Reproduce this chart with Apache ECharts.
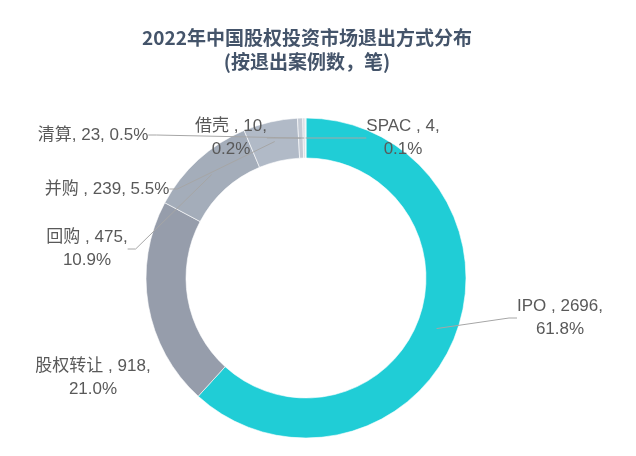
<!DOCTYPE html>
<html>
<head>
<meta charset="utf-8">
<script src="https://cdn.jsdelivr.net/npm/echarts@6/dist/echarts.min.js"></script>
<style>html,body{margin:0;padding:0;background:#fff}#c{width:636px;height:456px}</style>
</head>
<body>
<div id="c"></div>
<script>
var categories = ['IPO', '股权转让', '回购', '并购', '清算', '借壳', 'SPAC'];
var values = [2696, 918, 475, 239, 23, 10, 4];
var nameSeparators = [' , ', ' , ', ' , ', ' , ', ', ', ' , ', ' , '];
var wrapAfterValue = [true, true, true, false, false, true, true];
var titleText = '2022年中国股权投资市场退出方式分布\n(按退出案例数，笔)';

var colors = ['#20CDD6', '#969DAB', '#A4ADBA', '#B1BAC7', '#C4CAD4', '#D3D8DF', '#E2E5EA'];
var showLeader = [true, false, true, true, true, true, true];
// label anchor positions (centre of text block), in px
var labelPos = [
  [560, 318], [93, 378], [87, 249], [107, 189], [93, 135], [231, 138], [403, 138]
];

var chart = echarts.init(document.getElementById('c'));
var ringData = categories.map(function (n, i) {
  return { name: n, value: values[i], itemStyle: { color: colors[i] } };
});
var guideData = categories.map(function (n, i) {
  return { name: n, value: values[i], labelLine: { show: showLeader[i] } };
});
chart.setOption({
  animation: false,
  title: {
    text: titleText,
    left: 302, top: 21, textAlign: 'center',
    textStyle: { fontFamily: 'Noto Sans CJK SC', fontSize: 19, fontWeight: 'bold', color: '#44546A', lineHeight: 24 }
  },
  series: [{
    type: 'pie',
    z: 1,
    center: [306, 278],
    radius: [120, 160],
    startAngle: 90,
    clockwise: true,
    silent: true,
    itemStyle: { borderColor: '#ffffff', borderWidth: 0.6 },
    label: { show: false },
    labelLine: { show: false },
    data: ringData
  }, {
    type: 'pie',
    z: 10,
    center: [306, 278],
    radius: [139.5, 140],
    startAngle: 90,
    clockwise: true,
    silent: true,
    avoidLabelOverlap: false,
    itemStyle: { color: 'rgba(0,0,0,0)' },
    data: guideData,
    label: {
      show: true,
      fontFamily: 'Liberation Sans, Noto Sans CJK SC',
      fontSize: 17,
      color: '#595959',
      lineHeight: 23,
      align: 'center',
      formatter: function (p) {
        var i = p.dataIndex;
        return p.name + nameSeparators[i] + p.value + ',' + (wrapAfterValue[i] ? '\n' : ' ') + p.percent.toFixed(1) + '%';
      }
    },
    labelLine: { show: true, lineStyle: { color: '#A6A6A6', width: 1 }, length: 6, length2: 8, minTurnAngle: 0 },
    labelLayout: function (p) {
      var pos = labelPos[p.dataIndex];
      return { x: pos[0], y: pos[1], align: 'center', verticalAlign: 'middle' };
    }
  }]
});
</script>
</body>
</html>
